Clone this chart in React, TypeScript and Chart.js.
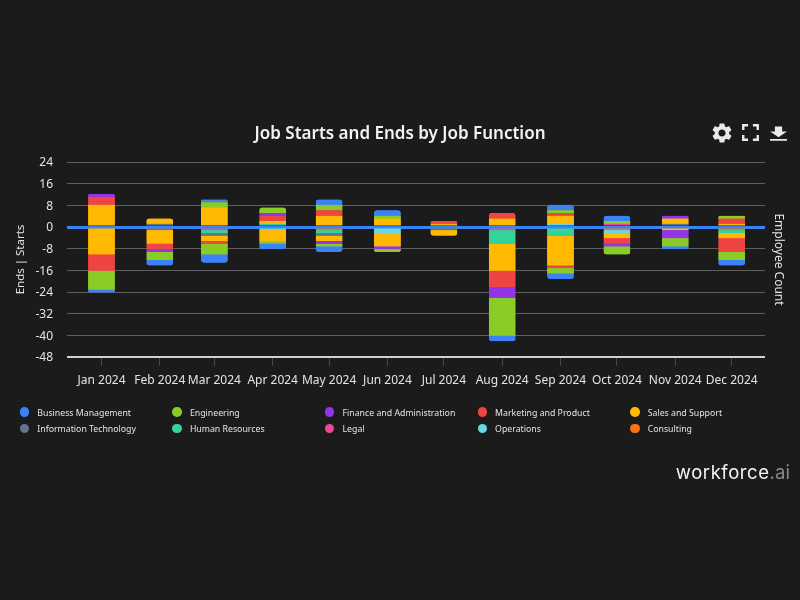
import React, { useEffect, useRef } from "react";
import { Chart, registerables } from "chart.js";

Chart.register(...registerables);

const months = ["Jan 2024", "Feb 2024", "Mar 2024", "Apr 2024", "May 2024", "Jun 2024", "Jul 2024", "Aug 2024", "Sep 2024", "Oct 2024", "Nov 2024", "Dec 2024"];
const monthStarts = ["2024-01-01", "2024-02-01", "2024-03-01", "2024-04-01", "2024-05-01", "2024-06-01", "2024-07-01", "2024-08-01", "2024-09-01", "2024-10-01", "2024-11-01", "2024-12-01"];
const yMin = -48;
const yMax = 24;
const yStep = 8;

const consultingStarts = [0, 0, 0, 0, 0, 0, 0, 0, 0, 0, 0, 0];
const consultingEnds = [0, 0, 0, 0, -1, 0, 0, 0, 0, -1, 0, -1];
const operationsStarts = [0, 0, 0, 0, 0, 0, 0, 0, 1, 0, 0, 0];
const operationsEnds = [0, 0, 0, -1, 0, -2, 0, 0, 0, -1, 0, 0];
const legalStarts = [0, 0, 0, 0, 0, 0, 0, 0, 0, 1, 0, 0];
const legalEnds = [0, 0, -1, 0, 0, 0, 0, -1, 0, 0, 0, 0];
const hrStarts = [0, 0, 0, 1, 0, 0, 0, 0, 0, 0, 0, 0];
const hrEnds = [0, 0, -1, 0, -1, 0, 0, -5, -3, 0, 0, -1];
const itStarts = [0, 1, 0, 0, 0, 0, 0, 0, 0, 0, 1, 0];
const itEnds = [0, -1, -1, 0, -1, 0, -1, 0, 0, 0, 0, 0];
const salesStarts = [8, 2, 7, 1, 4, 3, 1, 3, 3, 0, 2, 1];
const salesEnds = [-10, -5, -2, -4, -2, -5, -2, -10, -11, -2, -1, -2];
const marketingStarts = [3, 0, 0, 2, 2, 0, 1, 2, 1, 0, 0, 2];
const marketingEnds = [-6, -2, -1, 0, 0, 0, 0, -6, -1, -2, 0, -5];
const financeStarts = [1, 0, 0, 1, 0, 0, 0, 0, 0, 0, 1, 0];
const financeEnds = [0, -1, 0, 0, -1, -1, 0, -4, 0, -1, -3, 0];
const engineeringStarts = [0, 0, 2, 2, 2, 1, 0, 0, 1, 1, 0, 1];
const engineeringEnds = [-7, -3, -4, -1, -1, -1, 0, -14, -2, -3, -3, -3];
const businessStarts = [0, 0, 1, 0, 2, 2, 0, 0, 2, 2, 0, 0];
const businessEnds = [-1, -2, -3, -2, -2, 0, 0, -2, -2, 0, -1, -2];

const seriesStack = [
  { name: "Consulting", color: "#F97316", starts: consultingStarts, ends: consultingEnds },
  { name: "Operations", color: "#67D8E6", starts: operationsStarts, ends: operationsEnds },
  { name: "Legal", color: "#EC4899", starts: legalStarts, ends: legalEnds },
  { name: "Human Resources", color: "#34D399", starts: hrStarts, ends: hrEnds },
  { name: "Information Technology", color: "#64748B", starts: itStarts, ends: itEnds },
  { name: "Sales and Support", color: "#FFB900", starts: salesStarts, ends: salesEnds },
  { name: "Marketing and Product", color: "#EF4444", starts: marketingStarts, ends: marketingEnds },
  { name: "Finance and Administration", color: "#9333EA", starts: financeStarts, ends: financeEnds },
  { name: "Engineering", color: "#8BCB25", starts: engineeringStarts, ends: engineeringEnds },
  { name: "Business Management", color: "#3B82F6", starts: businessStarts, ends: businessEnds },
];

const legendOrder = [...seriesStack].reverse();
const FONT = '"Noto Sans", "Open Sans", sans-serif';
const TEXT = "#E4E4E4";
const BG = "#1B1B1B";

const DAY_MS = 86400000;
const monthDays = monthStarts.map((d) => (Date.parse(d) - Date.parse(monthStarts[0])) / DAY_MS);
const xMinDay = -18.34;
const xMaxDay = 352.7;

const GEAR = "M19.14 12.94c.04-.3.06-.61.06-.94 0-.32-.02-.64-.07-.94l2.03-1.58c.18-.14.23-.41.12-.61l-1.92-3.32c-.12-.22-.37-.29-.59-.22l-2.39.96c-.5-.38-1.03-.7-1.62-.94l-.36-2.54c-.04-.24-.24-.41-.48-.41h-3.84c-.24 0-.43.17-.47.41l-.36 2.54c-.59.24-1.13.57-1.62.94l-2.39-.96c-.22-.08-.47 0-.59.22L2.74 8.87c-.12.21-.08.47.12.61l2.03 1.58c-.05.3-.09.63-.09.94s.02.64.07.94l-2.03 1.58c-.18.14-.23.41-.12.61l1.92 3.32c.12.22.37.29.59.22l2.39-.96c.5.38 1.03.7 1.62.94l.36 2.54c.05.24.24.41.48.41h3.84c.24 0 .44-.17.47-.41l.36-2.54c.59-.24 1.13-.56 1.62-.94l2.39.96c.22.08.47 0 .59-.22l1.92-3.32c.12-.22.07-.47-.12-.61l-2.01-1.58zM12 15.6c-1.98 0-3.6-1.62-3.6-3.6s1.62-3.6 3.6-3.6 3.6 1.62 3.6 3.6-1.62 3.6-3.6 3.6z";
const EXPAND = "M7 14H5v5h5v-2H7v-3zm-2-4h2V7h3V5H5v5zm12 7h-3v2h5v-5h-2v3zM14 5v2h3v3h2V5h-5z";
const DOWNLOAD = "M19 9h-4V3H9v6H5l7 7 7-7zM5 18v2h14v-2H5z";

function Icon({ path, x, y, w, h }: { path: string; x: number; y: number; w: number; h: number }) {
  return (
    <svg viewBox="0 0 24 24" width={w} height={h} preserveAspectRatio="none" style={{ position: "absolute", left: x - w / 2, top: y - h / 2 }}>
      <path d={path} fill="#EAEAEA" />
    </svg>
  );
}

export default function App() {
  const ref = useRef<HTMLCanvasElement | null>(null);

  useEffect(() => {
    if (!ref.current) return;
    const toPoints = (vals: number[]) => vals.map((v, i) => ({ x: monthDays[i], y: v === 0 ? null : v }));
    const datasets = seriesStack.flatMap((s) => [
      { label: s.name + " starts", data: toPoints(s.starts), backgroundColor: s.color, borderColor: s.color, stack: "jobs" },
      { label: s.name + " ends", data: toPoints(s.ends), backgroundColor: s.color, borderColor: s.color, stack: "jobs" },
    ]);
    const gridColor = (c: any) => (c.tick.value === 0 ? "#3B82F6" : c.tick.value === yMin ? "#CFCFCF" : "#5E5E5E");
    const gridWidth = (c: any) => (c.tick.value === 0 ? 3 : c.tick.value === yMin ? 2 : 1);
    const chart = new Chart(ref.current, {
      type: "bar",
      data: {
        datasets: datasets.map((d) => ({
          ...d,
          barThickness: 25.7,
          borderWidth: 0.01,
          inflateAmount: 0.5,
          borderRadius: 3,
        })),
      },
      options: {
        responsive: false,
        animation: false,
        devicePixelRatio: 1,
        layout: { padding: 0 },
        plugins: {
          legend: { display: false },
          tooltip: { enabled: false },
          title: {
            display: true,
            text: "Job Starts and Ends by Job Function",
            color: "#F2F2F2",
            font: { family: FONT, size: 17, weight: "600" },
            padding: { top: 123.5, bottom: 18.1 },
          },
        },
        scales: {
          x: {
            type: "linear",
            min: xMinDay,
            max: xMaxDay,
            offset: false,
            border: { display: false },
            grid: { drawOnChartArea: false, drawTicks: true, tickLength: 9, color: "#484848", offset: false },
            ticks: {
              color: TEXT,
              font: { family: FONT, size: 12 },
              padding: 7,
              autoSkip: false,
              maxRotation: 0,
              callback: (v: any) => months[monthDays.indexOf(v)] ?? "",
            },
            afterBuildTicks: (s: any) => { s.ticks = monthDays.map((value) => ({ value })); },
            afterFit: (s: any) => { s.height = 243; },
          },
          y: {
            stacked: true,
            position: "left",
            min: yMin,
            max: yMax,
            border: { display: false },
            grid: { color: gridColor, lineWidth: gridWidth, drawTicks: false },
            ticks: { stepSize: yStep, color: TEXT, font: { family: FONT, size: 12 }, padding: 14, labelOffset: 1 },
            title: { display: true, text: "Ends | Starts", color: TEXT, font: { family: FONT, size: 11.5 }, padding: { top: 14, bottom: 0 } },
            afterFit: (s: any) => { s.width = 67; },
          },
          yRight: {
            position: "right",
            min: yMin,
            max: yMax,
            border: { display: false },
            grid: { display: false },
            ticks: { stepSize: yStep, display: false },
            title: { display: true, text: "Employee Count", color: TEXT, font: { family: FONT, size: 12 }, padding: { top: 14, bottom: 0 } },
            afterFit: (s: any) => { s.width = 35; },
          },
        },
      } as any,
    });
    return () => chart.destroy();
  }, []);

  return (
    <div style={{ position: "fixed", left: 0, top: 0, width: 800, height: 600, background: BG, overflow: "hidden", fontFamily: FONT }}>
      <canvas ref={ref} width={800} height={600} style={{ position: "absolute", left: 0, top: 0, width: 800, height: 600 }} />
      <Icon path={GEAR} x={721.5} y={132.8} w={24} h={24} />
      <Icon path={EXPAND} x={750} y={132.5} w={29} h={29} />
      <Icon path={DOWNLOAD} x={778.5} y={134} w={29} h={20} />
      {legendOrder.map((s, i) => {
        const col = i % 5;
        const row = Math.floor(i / 5);
        const left = 24.5 + col * 152.6;
        const top = 412 + row * 16.5;
        return (
          <React.Fragment key={s.name}>
            <div style={{ position: "absolute", left: left - 4.75, top: top - 4.75, width: 9.5, height: 9.5, borderRadius: "50%", background: s.color }} />
            <div style={{ position: "absolute", left: left + 12.8, top: top - 7.5, height: 16, lineHeight: "16px", fontSize: 8.75, color: TEXT, whiteSpace: "nowrap" }}>{s.name}</div>
          </React.Fragment>
        );
      })}
      <div style={{ position: "absolute", right: 10, top: 459, fontFamily: "Inter, sans-serif", fontSize: 18.5, lineHeight: "26px", letterSpacing: 0.55, color: "#F4F4F4", whiteSpace: "nowrap" }}>
        workforce<span style={{ color: "#8A8A8A", letterSpacing: 0.1 }}>.ai</span>
      </div>
    </div>
  );
}
